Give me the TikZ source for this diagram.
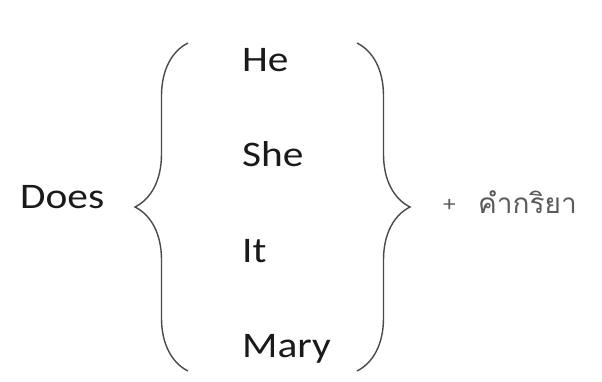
\documentclass[tikz,border=0pt]{standalone}
\usepackage{fontspec}
\setmainfont[FakeStretch=1.15]{Carlito}
\newfontfamily\thaifont[Script=Thai]{Loma}
\usetikzlibrary{positioning}
\usetikzlibrary{decorations.pathreplacing}

\definecolor{bracegray}{HTML}{4A4A4A}
\definecolor{wordgray}{HTML}{1A1A1A}
\definecolor{verbgray}{HTML}{5A5A5A}

\tikzset{
    word/.style={anchor=base west, inner sep=0pt, text=wordgray, font=\fontsize{36}{40}\selectfont},
    verb/.style={anchor=base west, inner sep=0pt, text=verbgray, font=\fontsize{22}{26}\selectfont},
    curly/.style={decorate, decoration={brace, amplitude=53pt}, draw=bracegray, line width=1.4pt}
}

\begin{document}
\begin{tikzpicture}[x=1pt,y=1pt]
        \useasboundingbox (0,0) rectangle (602,381);
        % subject
        \node[word] (does) at (20,173) {Does};
        % pronouns inside the braces
        \node[word] (he) at (242,309) {He};
        \node[word] (she) at (242,215) {She};
        \node[word] (it) at (242,119) {It};
        \node[word] (mary) at (242,24) {Mary};
        % verb
        \node[verb] (plus) at (443,170) {+};
        \node[verb, font=\fontsize{28}{32}\selectfont] (kamkriya) at (478,168) {\thaifont คำกริยา};

        \coordinate (lbot) at (188,10);
        \coordinate (ltop) at (188,338);
        \coordinate (rtop) at (357,338);
        \coordinate (rbot) at (357,10);
        \draw[curly] (lbot) -- (ltop);
        \draw[curly] (rtop) -- (rbot);
\end{tikzpicture}
\end{document}
